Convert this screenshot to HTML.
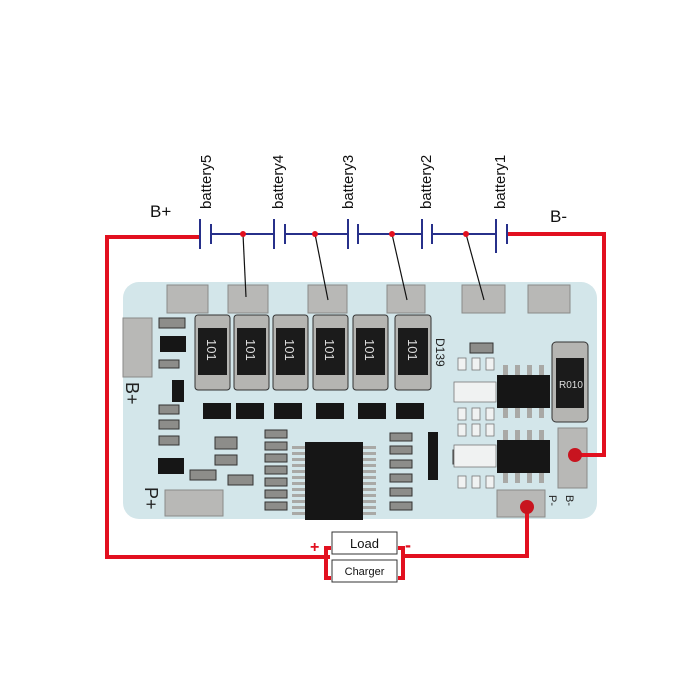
<!DOCTYPE html>
<html><head><meta charset="utf-8"><style>
html,body{margin:0;padding:0;background:#fff;width:700px;height:700px;overflow:hidden}
svg{display:block}
text{font-family:"Liberation Sans",Arial,sans-serif}
</style></head><body>
<svg width="700" height="700" viewBox="0 0 700 700" xmlns="http://www.w3.org/2000/svg">
<!-- board -->
<rect x="123" y="282" width="474" height="237" rx="16" fill="#d3e6ea"/>
<g fill="#b8b8b6" stroke="#8a8a88" stroke-width="1">
<rect x="167" y="285" width="41" height="28"/>
<rect x="228" y="285" width="40" height="28"/>
<rect x="308" y="285" width="39" height="28"/>
<rect x="387" y="285" width="38" height="28"/>
<rect x="462" y="285" width="43" height="28"/>
<rect x="528" y="285" width="42" height="28"/>
<rect x="123" y="318" width="29" height="59"/>
<rect x="165" y="490" width="58" height="26"/>
<rect x="558" y="428" width="29" height="60"/>
<rect x="497" y="490" width="48" height="27"/>
</g>
<!-- 101 resistors -->
<g>
<g transform="translate(195,315)"><rect width="35" height="75" rx="3" fill="#b5b5b2" stroke="#333"/><rect x="3" y="13" width="29" height="47" fill="#1b1b1b"/></g>
<g transform="translate(234,315)"><rect width="35" height="75" rx="3" fill="#b5b5b2" stroke="#333"/><rect x="3" y="13" width="29" height="47" fill="#1b1b1b"/></g>
<g transform="translate(273,315)"><rect width="35" height="75" rx="3" fill="#b5b5b2" stroke="#333"/><rect x="3" y="13" width="29" height="47" fill="#1b1b1b"/></g>
<g transform="translate(313,315)"><rect width="35" height="75" rx="3" fill="#b5b5b2" stroke="#333"/><rect x="3" y="13" width="29" height="47" fill="#1b1b1b"/></g>
<g transform="translate(353,315)"><rect width="35" height="75" rx="3" fill="#b5b5b2" stroke="#333"/><rect x="3" y="13" width="29" height="47" fill="#1b1b1b"/></g>
<g transform="translate(395,315)"><rect width="36" height="75" rx="3" fill="#b5b5b2" stroke="#333"/><rect x="3" y="13" width="30" height="47" fill="#1b1b1b"/></g>
</g>
<g fill="#ddd" font-size="13">
<text transform="translate(207,339) rotate(90)">101</text>
<text transform="translate(246,339) rotate(90)">101</text>
<text transform="translate(285,339) rotate(90)">101</text>
<text transform="translate(325,339) rotate(90)">101</text>
<text transform="translate(365,339) rotate(90)">101</text>
<text transform="translate(408,339) rotate(90)">101</text>
</g>
<text transform="translate(436,338) rotate(90)" font-size="12" fill="#222" font-family="Liberation Serif">D139</text>
<!-- R010 -->
<rect x="552" y="342" width="36" height="80" rx="4" fill="#b5b5b2" stroke="#333"/>
<rect x="556" y="358" width="28" height="50" fill="#1b1b1b"/>
<text x="559" y="388" font-size="10" fill="#ddd">R010</text>
<!-- transistors row -->
<g fill="#161616">
<rect x="203" y="403" width="28" height="16"/><rect x="236" y="403" width="28" height="16"/>
<rect x="274" y="403" width="28" height="16"/><rect x="316" y="403" width="28" height="16"/>
<rect x="358" y="403" width="28" height="16"/><rect x="396" y="403" width="28" height="16"/>
<rect x="160" y="336" width="26" height="16"/><rect x="172" y="380" width="12" height="22" />
<rect x="158" y="458" width="26" height="16"/>
<rect x="497" y="375" width="53" height="33"/><rect x="497" y="440" width="53" height="33"/>
<rect x="305" y="442" width="58" height="78"/>
<rect x="428" y="432" width="10" height="48"/>
</g>
<g fill="#a9a9a6">
<rect x="292" y="446" width="13" height="3"/><rect x="292" y="452" width="13" height="3"/><rect x="292" y="458" width="13" height="3"/><rect x="292" y="464" width="13" height="3"/><rect x="292" y="470" width="13" height="3"/><rect x="292" y="476" width="13" height="3"/><rect x="292" y="482" width="13" height="3"/><rect x="292" y="488" width="13" height="3"/><rect x="292" y="494" width="13" height="3"/><rect x="292" y="500" width="13" height="3"/><rect x="292" y="506" width="13" height="3"/><rect x="292" y="512" width="13" height="3"/>
<rect x="363" y="446" width="13" height="3"/><rect x="363" y="452" width="13" height="3"/><rect x="363" y="458" width="13" height="3"/><rect x="363" y="464" width="13" height="3"/><rect x="363" y="470" width="13" height="3"/><rect x="363" y="476" width="13" height="3"/><rect x="363" y="482" width="13" height="3"/><rect x="363" y="488" width="13" height="3"/><rect x="363" y="494" width="13" height="3"/><rect x="363" y="500" width="13" height="3"/><rect x="363" y="506" width="13" height="3"/><rect x="363" y="512" width="13" height="3"/>
<rect x="503" y="365" width="5" height="10"/><rect x="515" y="365" width="5" height="10"/><rect x="527" y="365" width="5" height="10"/><rect x="539" y="365" width="5" height="10"/>
<rect x="503" y="408" width="5" height="10"/><rect x="515" y="408" width="5" height="10"/><rect x="527" y="408" width="5" height="10"/><rect x="539" y="408" width="5" height="10"/>
<rect x="503" y="430" width="5" height="10"/><rect x="515" y="430" width="5" height="10"/><rect x="527" y="430" width="5" height="10"/><rect x="539" y="430" width="5" height="10"/>
<rect x="503" y="473" width="5" height="10"/><rect x="515" y="473" width="5" height="10"/><rect x="527" y="473" width="5" height="10"/><rect x="539" y="473" width="5" height="10"/>
</g>
<!-- small parts columns -->
<g fill="#8d8d8a" stroke="#333" stroke-width="1">
<rect x="159" y="318" width="26" height="10"/><rect x="159" y="360" width="20" height="8"/><rect x="159" y="405" width="20" height="9"/><rect x="159" y="420" width="20" height="9"/><rect x="159" y="436" width="20" height="9"/>
<rect x="265" y="430" width="22" height="8"/><rect x="265" y="442" width="22" height="8"/><rect x="265" y="454" width="22" height="8"/><rect x="265" y="466" width="22" height="8"/><rect x="265" y="478" width="22" height="8"/><rect x="265" y="490" width="22" height="8"/><rect x="265" y="502" width="22" height="8"/>
<rect x="390" y="433" width="22" height="8"/><rect x="390" y="446" width="22" height="8"/><rect x="390" y="460" width="22" height="8"/><rect x="390" y="474" width="22" height="8"/><rect x="390" y="488" width="22" height="8"/><rect x="390" y="502" width="22" height="8"/>
<rect x="215" y="437" width="22" height="12"/><rect x="215" y="455" width="22" height="10"/><rect x="190" y="470" width="26" height="10"/><rect x="228" y="475" width="25" height="10"/>
<rect x="453" y="450" width="28" height="14"/><rect x="470" y="343" width="23" height="10"/><rect x="513" y="496" width="0" height="0"/>
</g>
<g fill="#f0f2f2" stroke="#777" stroke-width="0.8">
<rect x="458" y="358" width="8" height="12"/><rect x="472" y="358" width="8" height="12"/><rect x="486" y="358" width="8" height="12"/>
<rect x="458" y="408" width="8" height="12"/><rect x="472" y="408" width="8" height="12"/><rect x="486" y="408" width="8" height="12"/>
<rect x="458" y="424" width="8" height="12"/><rect x="472" y="424" width="8" height="12"/><rect x="486" y="424" width="8" height="12"/>
<rect x="458" y="476" width="8" height="12"/><rect x="472" y="476" width="8" height="12"/><rect x="486" y="476" width="8" height="12"/>
<rect x="454" y="382" width="42" height="20"/><rect x="454" y="445" width="42" height="22"/>
</g>
<g font-family="Liberation Serif" fill="#222">
<text transform="translate(126,382) rotate(90)" font-size="18">B+</text>
<text transform="translate(145,487) rotate(90)" font-size="18">P+</text>
<text transform="translate(549,495) rotate(90)" font-size="11">P-</text>
<text transform="translate(566,495) rotate(90)" font-size="11">B-</text>
</g>
<!-- red wires -->
<g fill="none" stroke="#e2101f" stroke-width="4">
<polyline points="201,237 107,237 107,557 330,557"/>
<polyline points="508,234 604,234 604,455 575,455"/>
<polyline points="527,507 527,556 402,556"/>
<polyline points="331,548 326,548 326,578 331,578"/>
<polyline points="398,548 403,548 403,578 398,578"/>
</g>
<circle cx="575" cy="455" r="7" fill="#c8141f"/>
<circle cx="527" cy="507" r="7" fill="#c8141f"/>
<!-- battery symbols -->
<g stroke="#27308a" stroke-width="2">
<line x1="211" y1="234" x2="274" y2="234"/><line x1="285" y1="234" x2="348" y2="234"/>
<line x1="358" y1="234" x2="422" y2="234"/><line x1="432" y1="234" x2="496" y2="234"/>
<line x1="200" y1="219" x2="200" y2="249"/><line x1="211" y1="224" x2="211" y2="244"/>
<line x1="274" y1="219" x2="274" y2="249"/><line x1="285" y1="224" x2="285" y2="244"/>
<line x1="348" y1="219" x2="348" y2="249"/><line x1="358" y1="224" x2="358" y2="244"/>
<line x1="422" y1="219" x2="422" y2="249"/><line x1="432" y1="224" x2="432" y2="244"/>
<line x1="496" y1="219" x2="496" y2="253"/><line x1="507" y1="224" x2="507" y2="244"/>
</g>
<g stroke="#111" stroke-width="1.2">
<line x1="243" y1="234" x2="246" y2="297"/><line x1="315" y1="234" x2="328" y2="300"/>
<line x1="392" y1="234" x2="407" y2="300"/><line x1="466" y1="234" x2="484" y2="300"/>
</g>
<g fill="#e2101f"><circle cx="243" cy="234" r="3"/><circle cx="315" cy="234" r="3"/><circle cx="392" cy="234" r="3"/><circle cx="466" cy="234" r="3"/></g>
<g font-size="15" fill="#111">
<text transform="translate(211,209) rotate(-90)">battery5</text>
<text transform="translate(283,209) rotate(-90)">battery4</text>
<text transform="translate(353,209) rotate(-90)">battery3</text>
<text transform="translate(431,209) rotate(-90)">battery2</text>
<text transform="translate(505,209) rotate(-90)">battery1</text>
<text x="150" y="217" font-size="17">B+</text>
<text x="550" y="222" font-size="17">B-</text>
</g>
<!-- load / charger -->
<rect x="332" y="532" width="65" height="22" fill="#fff" stroke="#333"/>
<rect x="332" y="560" width="65" height="22" fill="#fff" stroke="#333"/>
<text x="364.5" y="548" font-size="13" text-anchor="middle" fill="#111">Load</text>
<text x="364.5" y="575" font-size="11" text-anchor="middle" fill="#111">Charger</text>
<text x="310" y="552" font-size="16" fill="#e2101f" font-weight="bold">+</text>
<text x="405" y="551" font-size="18" fill="#e2101f" font-weight="bold">-</text>
</svg>
</body></html>
